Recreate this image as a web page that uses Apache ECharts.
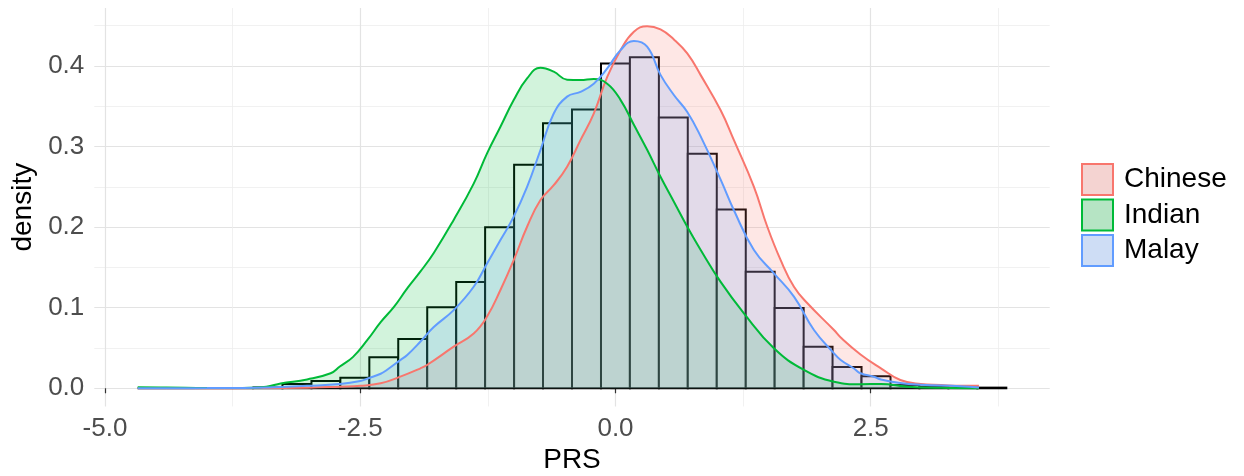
<!DOCTYPE html>
<html>
<head>
<meta charset="utf-8">
<script src="https://cdn.jsdelivr.net/npm/echarts@6/dist/echarts.min.js"></script>
<style>
html,body{margin:0;padding:0;background:#fff;}
#chart{width:1244px;height:476px;}
</style>
</head>
<body>
<div id="chart"></div>
<script>
// ---- data ----
const groups = ['Chinese', 'Indian', 'Malay'];
const groupColors = ['#F8766D', '#00BA38', '#619CFF'];

const binEdges = [-4.680, -4.396, -4.113, -3.829, -3.546, -3.262, -2.978, -2.695, -2.411, -2.128,
  -1.844, -1.560, -1.277, -0.993, -0.710, -0.426, -0.142, 0.141, 0.425, 0.708,
  0.992, 1.276, 1.559, 1.843, 2.126, 2.410, 2.694, 2.977, 3.261, 3.544, 3.828];
const binDensity = [0, 0, 0, 0, 0.001, 0.0053, 0.009, 0.0132, 0.0385, 0.0612,
  0.1005, 0.132, 0.1998, 0.2775, 0.329, 0.346, 0.403, 0.411, 0.336, 0.291,
  0.222, 0.1447, 0.0996, 0.0516, 0.0264, 0.0149, 0.004, 0.002, 0.001, 0.0008];

const chineseDensity = [[-4.68, 0], [-3.5, 0.0002], [-3.02, 0.0008], [-2.70, 0.002], [-2.50, 0.003],
  [-2.30, 0.0062], [-2.108, 0.0144], [-1.91, 0.0248], [-1.846, 0.0289], [-1.585, 0.0516],
  [-1.389, 0.068], [-1.258, 0.089], [-1.127, 0.122], [-0.997, 0.159], [-0.866, 0.2005],
  [-0.735, 0.2336], [-0.605, 0.252], [-0.474, 0.275], [-0.343, 0.308], [-0.213, 0.341],
  [-0.081, 0.3866], [0.049, 0.4197], [0.18, 0.4425], [0.31, 0.4495], [0.441, 0.4454],
  [0.572, 0.433], [0.703, 0.4156], [0.833, 0.389], [1.03, 0.345], [1.16, 0.308],
  [1.356, 0.250], [1.487, 0.2005], [1.618, 0.159], [1.748, 0.126], [1.88, 0.1055],
  [2.14, 0.0723], [2.206, 0.063], [2.40, 0.042], [2.60, 0.0248], [2.79, 0.0103],
  [2.99, 0.0053], [3.19, 0.004], [3.38, 0.003], [3.56, 0.003]];

const indianDensity = [[-4.68, 0.0012], [-4.40, 0.001], [-4.0, 0.0003], [-3.74, 0.0002], [-3.42, 0.002],
  [-3.28, 0.006], [-3.02, 0.011], [-2.79, 0.0186], [-2.70, 0.027], [-2.57, 0.039],
  [-2.43, 0.06], [-2.30, 0.082], [-2.17, 0.101], [-2.04, 0.124], [-1.91, 0.145],
  [-1.78, 0.168], [-1.585, 0.209], [-1.389, 0.254], [-1.258, 0.2916], [-1.127, 0.3246],
  [-0.997, 0.3577], [-0.866, 0.3846], [-0.735, 0.3978], [-0.605, 0.393], [-0.474, 0.383],
  [-0.343, 0.3825], [-0.213, 0.384], [-0.081, 0.378], [0.049, 0.358], [0.18, 0.327],
  [0.31, 0.296], [0.441, 0.2625], [0.572, 0.2315], [0.703, 0.2005], [0.833, 0.172],
  [1.03, 0.132], [1.258, 0.093], [1.552, 0.0496], [1.846, 0.0227], [2.14, 0.0082],
  [2.40, 0.005], [2.60, 0.0053], [2.86, 0.002], [3.19, 0.0005], [3.56, 0.0001]];

const malayDensity = [[-4.68, 0], [-4.0, 0.0002], [-3.42, 0.001], [-3.02, 0.003], [-2.70, 0.0053],
  [-2.50, 0.009], [-2.42, 0.0124], [-2.30, 0.018], [-2.24, 0.0227], [-2.108, 0.035],
  [-2.04, 0.0413], [-1.91, 0.058], [-1.78, 0.076], [-1.585, 0.097], [-1.389, 0.126],
  [-1.258, 0.155], [-1.127, 0.184], [-0.997, 0.213], [-0.866, 0.250], [-0.735, 0.2957],
  [-0.605, 0.341], [-0.474, 0.362], [-0.343, 0.368], [-0.213, 0.378], [-0.081, 0.397],
  [0.049, 0.4197], [0.18, 0.431], [0.31, 0.424], [0.441, 0.389], [0.572, 0.364],
  [0.703, 0.343], [0.833, 0.313], [1.03, 0.259], [1.16, 0.221], [1.356, 0.1716],
  [1.552, 0.1427], [1.748, 0.1137], [1.944, 0.0723], [2.14, 0.0434], [2.206, 0.035],
  [2.336, 0.0245], [2.40, 0.0186], [2.53, 0.0144], [2.60, 0.011], [2.79, 0.0066],
  [2.99, 0.0045], [3.38, 0.0025], [3.56, 0.001]];

const densities = [chineseDensity, indianDensity, malayDensity];

const xTicks = [-5, -2.5, 0, 2.5];
const xMinorTicks = [-3.75, -1.25, 1.25, 3.75];
const yTicks = [0, 0.1, 0.2, 0.3, 0.4];
const yMinorTicks = [0.05, 0.15, 0.25, 0.35, 0.45];
const xTitle = 'PRS';
const yTitle = 'density';

// ---- chart ----
const FONT = 'Liberation Sans, Arial, sans-serif';
const chart = echarts.init(document.getElementById('chart'), null, {renderer: 'canvas'});
const ALPHA = 0.25;

function hexA(hex, a) {
  const r = parseInt(hex.slice(1, 3), 16), g = parseInt(hex.slice(3, 5), 16), b = parseInt(hex.slice(5, 7), 16);
  return 'rgba(' + r + ',' + g + ',' + b + ',' + a + ')';
}
function keyFill(hex, a) { // alpha fill over grey95 key background
  const bg = 242;
  const c = [1, 3, 5].map(i => Math.round(a * parseInt(hex.slice(i, i + 2), 16) + (1 - a) * bg));
  return 'rgb(' + c.join(',') + ')';
}

const histData = binDensity.map((d, i) => [binEdges[i], binEdges[i + 1], d]);

const series = [];
// legend proxies (rect keys)
groups.forEach((g, i) => {
  series.push({name: g, type: 'custom', data: [], renderItem: () => null, itemStyle: {color: groupColors[i]}});
});
series.push({
  name: 'hist', type: 'custom', data: histData,
  encode: {x: [0, 1], y: 2},
  renderItem: function (params, api) {
    const p0 = api.coord([api.value(0), 0]);
    const p1 = api.coord([api.value(1), api.value(2)]);
    return {
      type: 'rect',
      shape: {x: p0[0], y: p1[1], width: p1[0] - p0[0], height: p0[1] - p1[1]},
      style: {fill: '#ffffff', stroke: '#000000', lineWidth: 2}
    };
  }
});
groups.forEach((g, i) => {
  series.push({
    name: g, type: 'line', data: densities[i], smooth: 0.45, showSymbol: false, symbol: 'none',
    lineStyle: {color: groupColors[i], width: 2},
    itemStyle: {color: groupColors[i]},
    areaStyle: {color: hexA(groupColors[i], ALPHA), origin: 0}
  });
});

const axisTextStyle = {color: '#4D4D4D', fontSize: 26, fontFamily: FONT};

chart.setOption({
  animation: false,
  backgroundColor: '#ffffff',
  grid: {left: 94.3, right: 194.3, top: 8, bottom: 69.6, containLabel: false, outerBoundsMode: 'none'},
  legend: {
    orient: 'vertical', left: 1081, top: 163, padding: 0,
    itemWidth: 31, itemHeight: 31, itemGap: 2.5,
    textStyle: {color: '#000', fontSize: 28, fontFamily: FONT, padding: [0, 0, 0, 6]},
    data: groups.map((g, i) => ({
      name: g, icon: 'rect',
      itemStyle: {color: keyFill(groupColors[i], ALPHA), borderColor: groupColors[i], borderWidth: 2}
    })),
    selectedMode: false
  },
  xAxis: [{
    type: 'value', min: -5.105, max: 4.253,
    name: xTitle, nameLocation: 'middle', nameGap: 37,
    nameTextStyle: {color: '#000', fontSize: 28, fontFamily: FONT},
    axisLine: {show: false},
    axisTick: {show: true, customValues: xTicks, length: 5, lineStyle: {color: '#333', width: 1.2}},
    axisLabel: {customValues: xTicks, margin: 9, formatter: v => v.toFixed(1), ...axisTextStyle},
    splitLine: {show: true, lineStyle: {color: '#E3E3E3', width: 1.2}}
  }, {
    type: 'value', min: -5.105, max: 4.253, position: 'top',
    axisLine: {show: false}, axisLabel: {show: false},
    axisTick: {show: false, customValues: xMinorTicks},
    splitLine: {show: true, lineStyle: {color: '#EDEDED', width: 0.8}}
  }],
  yAxis: [{
    type: 'value', min: -0.0225, max: 0.472,
    name: yTitle, nameLocation: 'middle', nameGap: 55,
    nameTextStyle: {color: '#000', fontSize: 28, fontFamily: FONT},
    axisLine: {show: false},
    axisTick: {show: true, customValues: yTicks, length: 5, lineStyle: {color: '#333', width: 1.2}},
    axisLabel: {customValues: yTicks, margin: 10, formatter: v => v.toFixed(1), ...axisTextStyle},
    splitLine: {show: true, lineStyle: {color: '#E3E3E3', width: 1.2}}
  }, {
    type: 'value', min: -0.0225, max: 0.472, position: 'right',
    axisLine: {show: false}, axisLabel: {show: false},
    axisTick: {show: false, customValues: yMinorTicks},
    splitLine: {show: true, lineStyle: {color: '#EDEDED', width: 0.8}}
  }],
  series: series
});
</script>
</body>
</html>
